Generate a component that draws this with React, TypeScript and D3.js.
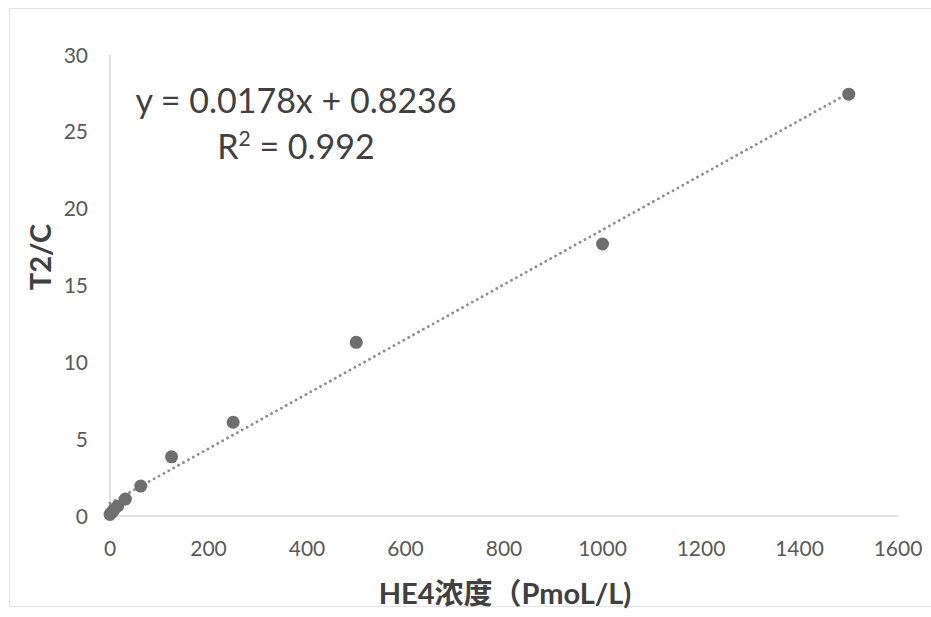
import { useEffect, useRef } from "react"
import * as d3 from "d3"

// HE4 concentration (PmoL/L) vs T2/C ratio
const concentrations = [0, 3.9, 7.8, 15.6, 31.25, 62.5, 125, 250, 500, 1000, 1500]
const ratios = [0.1, 0.25, 0.4, 0.65, 1.1, 1.95, 3.85, 6.1, 11.3, 17.7, 27.45]

const xTicks = [0, 200, 400, 600, 800, 1000, 1200, 1400, 1600]
const yTicks = [0, 5, 10, 15, 20, 25, 30]

const slope = 0.0178
const intercept = 0.8236
const rSquared = "0.992"

const xTitle = "HE4浓度（PmoL/L)"
const yTitle = "T2/C"

export default function App() {
    const chart = useRef<SVGSVGElement>(null)
    const width = 931
    const height = 617

    useEffect(() => {
        const svg = d3.select(chart.current)
        svg.selectAll("*").remove()

        const font = "Lato, 'Open Sans', sans-serif"

        // chart area border
        svg.append("rect")
            .attr("x", 9.5).attr("y", 8.5)
            .attr("width", 940).attr("height", 598)
            .attr("fill", "#fff")
            .attr("stroke", "#e3e3e3")

        const xScale = d3.scaleLinear().domain([0, 1600]).range([110, 898])
        const yScale = d3.scaleLinear().domain([0, 30]).range([516, 55])

        // axis lines
        svg.append("line")
            .attr("x1", xScale(0)).attr("x2", xScale(0))
            .attr("y1", yScale(0)).attr("y2", yScale(30))
            .attr("stroke", "#d6d6d6").attr("stroke-width", 1.5)
        svg.append("line")
            .attr("x1", xScale(0)).attr("x2", xScale(1600))
            .attr("y1", yScale(0)).attr("y2", yScale(0))
            .attr("stroke", "#d6d6d6").attr("stroke-width", 1.5)

        // tick labels
        svg.append("g").selectAll("text")
            .data(xTicks)
            .enter().append("text")
            .attr("x", d => xScale(d))
            .attr("y", 556)
            .attr("text-anchor", "middle")
            .attr("font-family", font)
            .attr("font-size", 21)
            .attr("fill", "#595959")
            .text(d => d)

        svg.append("g").selectAll("text")
            .data(yTicks)
            .enter().append("text")
            .attr("x", 88)
            .attr("y", d => yScale(d) + 7.5)
            .attr("text-anchor", "end")
            .attr("font-family", font)
            .attr("font-size", 21)
            .attr("fill", "#595959")
            .text(d => d)

        // trend line
        const fitLine = d3.line<number>()
            .x(d => xScale(d))
            .y(d => yScale(slope * d + intercept))
        svg.append("path")
            .datum([0, d3.max(concentrations) as number])
            .attr("d", fitLine)
            .attr("fill", "none")
            .attr("stroke", "#8c8c8c")
            .attr("stroke-width", 2.8)
            .attr("stroke-linecap", "round")
            .attr("stroke-dasharray", "0.1 5.5")

        // points
        svg.append("g").selectAll("circle")
            .data(concentrations)
            .enter().append("circle")
            .attr("cx", d => xScale(d))
            .attr("cy", (d, i) => yScale(ratios[i]))
            .attr("r", 6.5)
            .attr("fill", "#6e6e6e")

        // equation
        svg.append("text")
            .attr("x", 296).attr("y", 113)
            .attr("text-anchor", "middle")
            .attr("font-family", font)
            .attr("font-size", 34)
            .attr("fill", "#404040")
            .text(`y = ${slope}x + ${intercept}`)
        const r2 = svg.append("text")
            .attr("x", 296).attr("y", 159)
            .attr("text-anchor", "middle")
            .attr("font-family", font)
            .attr("font-size", 34)
            .attr("fill", "#404040")
        r2.append("tspan").text("R")
        r2.append("tspan").attr("dy", -13).attr("font-size", 21).text("2")
        r2.append("tspan").attr("dy", 13).text(` = ${rSquared}`)

        // axis titles
        svg.append("text")
            .attr("transform", "translate(51,257) rotate(-90)")
            .attr("text-anchor", "middle")
            .attr("font-family", font)
            .attr("font-weight", "bold")
            .attr("font-size", 29)
            .attr("fill", "#404040")
            .text(yTitle)
        svg.append("text")
            .attr("x", 505).attr("y", 604)
            .attr("text-anchor", "middle")
            .attr("font-family", "Lato, 'Noto Sans CJK SC', sans-serif")
            .attr("font-weight", "bold")
            .attr("font-size", 29)
            .attr("fill", "#404040")
            .text(xTitle)
    }, [])

    return (
        <svg ref={chart} width={width} height={height}
            style={{ position: "absolute", left: 0, top: 0, background: "#fff" }}></svg>
    )
}
